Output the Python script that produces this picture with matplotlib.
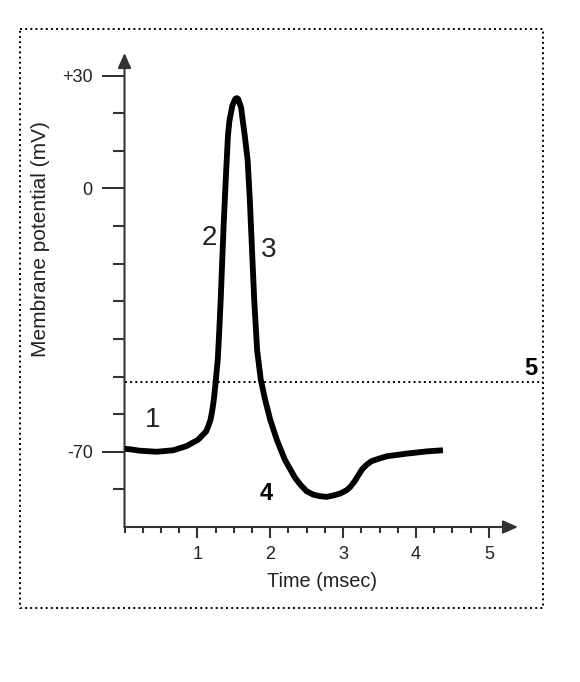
"""Action potential: membrane potential vs time, with numbered phases."""

import matplotlib

matplotlib.use("Agg")
import matplotlib.pyplot as plt
import numpy as np
from matplotlib.lines import Line2D

plt.rcParams["font.family"] = ["Liberation Sans", "DejaVu Sans"]

# ── data ──────────────────────────────────────────────────────────────────────
time_ms = [
    0.0, 0.1, 0.2, 0.44, 0.67, 0.85, 1.01, 1.06, 1.12, 1.15, 1.18, 1.20,
    1.22, 1.235, 1.25, 1.265, 1.28, 1.30, 1.32, 1.36, 1.39, 1.42, 1.44, 1.48,
    1.52, 1.54, 1.56, 1.60, 1.63, 1.65, 1.69, 1.72, 1.75, 1.78, 1.82, 1.87,
    1.93, 2.00, 2.09, 2.20, 2.34, 2.42, 2.50, 2.59, 2.68, 2.77, 2.87, 2.96,
    3.05, 3.10, 3.16, 3.21, 3.26, 3.32, 3.39, 3.48, 3.60, 3.87, 4.15, 4.37,
]
potential_mv = [
    -69.2, -69.4, -69.7, -70.0, -69.6, -68.5, -66.8, -65.8, -64.6, -63.2, -61.5, -59.5,
    -57.0, -54.5, -51.7, -48.5, -45.5, -38.0, -29.6, -10.0, 2.6, 14.1, 18.0, 22.0,
    23.8, 24.0, 23.8, 21.5, 17.0, 14.1, 7.5, -3.1, -16.4, -29.6, -43.0, -50.8,
    -56.2, -61.5, -66.8, -72.1, -76.9, -78.9, -80.5, -81.4, -81.8, -82.0, -81.6, -81.1,
    -80.2, -79.3, -77.8, -76.2, -74.7, -73.5, -72.5, -71.9, -71.2, -70.5, -69.9, -69.6,
]
threshold_mv = -51.4

y_major = [-70, 0, 30]
y_major_labels = ["-70", "0", "+30"]
y_minor = [-80, -60, -50, -40, -30, -20, -10, 10, 20]
x_major = [1, 2, 3, 4, 5]
x_major_labels = ["1", "2", "3", "4", "5"]

# phase labels: (text, time, potential, bold)
phase_labels = [
    ("1", 0.38, -61.5, False),
    ("2", 1.17, -13.2, False),
    ("3", 1.98, -16.4, False),
    ("4", 1.94, -81.0, True),
    ("5", 5.58, -47.8, True),
]

# ── layout / style ────────────────────────────────────────────────────────────
W, H = 580, 682
INK = "#333333"
LABEL = "#222222"
X_MAX, Y_MIN, Y_MAX = 5.4, -90, 36

fig = plt.figure(figsize=(W / 100, H / 100), dpi=100)
fig.patch.set_facecolor("white")
ax = fig.add_axes([124.5 / W, 155 / H, 393.5 / W, 474 / H])
ax.set_xlim(0, X_MAX)
ax.set_ylim(Y_MIN, Y_MAX)
ax.set_facecolor("none")
for side in ("top", "right", "left", "bottom"):
    ax.spines[side].set_visible(False)

# axes drawn as arrows
arrow_kw = dict(
    arrowstyle="-|>,head_length=0.9,head_width=0.4",
    lw=1.5,
    color=INK,
    shrinkA=0,
    shrinkB=0,
    mutation_scale=10,
)
ax.annotate("", xy=(0, Y_MAX), xytext=(0, Y_MIN), arrowprops=arrow_kw, annotation_clip=False)
ax.annotate("", xy=(X_MAX, Y_MIN), xytext=(0, Y_MIN), arrowprops=arrow_kw, annotation_clip=False)

# ticks
ax.set_yticks(y_major)
ax.set_yticklabels(y_major_labels)
ax.set_yticks(y_minor, minor=True)
ax.set_xticks(x_major)
ax.set_xticklabels(x_major_labels)
ax.set_xticks(np.arange(0, 5.01, 0.25), minor=True)
ax.tick_params(axis="y", which="major", length=16.5, width=1.5, color=INK,
               pad=6.3, labelsize=13, labelcolor=LABEL)
ax.tick_params(axis="y", which="minor", length=8.6, width=1.5, color=INK)
ax.tick_params(axis="x", which="major", length=8, width=1.5, color=INK,
               pad=6, labelsize=13, labelcolor=LABEL)
ax.tick_params(axis="x", which="minor", length=4.5, width=1.5, color=INK)

ax.set_xlabel("Time (msec)", fontsize=14.3, color=LABEL, va="center")
ax.xaxis.set_label_coords(0.502, -0.114)
ax.set_ylabel("Membrane potential (mV)", fontsize=15, color=LABEL, va="center")
ax.yaxis.set_label_coords(-0.2147, 0.6065)

# the action potential trace
ax.plot(time_ms, potential_mv, color="black", lw=4.2,
        solid_joinstyle="round", solid_capstyle="butt", zorder=3)

# threshold dotted line, running out to the frame
ax.axhline(threshold_mv, xmin=0, xmax=(543 - 124.5) / 393.5, color="black",
           lw=1.4, ls=":", clip_on=False, zorder=2)

for text, t, v, bold in phase_labels:
    ax.text(t, v, text, ha="center", va="center",
            fontsize=17 if bold else 20,
            fontweight="bold" if bold else "normal",
            color="black" if bold else LABEL, clip_on=False)

# dotted frame around the figure
left, right, top, bottom = 20 / W, 543 / W, 1 - 29 / H, 1 - 608 / H
fig.add_artist(Line2D([left, right, right, left, left], [top, top, bottom, bottom, top],
                      transform=fig.transFigure, color="black", lw=1.4, ls=":"))

fig.savefig("out.png", dpi=100, facecolor="white")
plt.close(fig)
